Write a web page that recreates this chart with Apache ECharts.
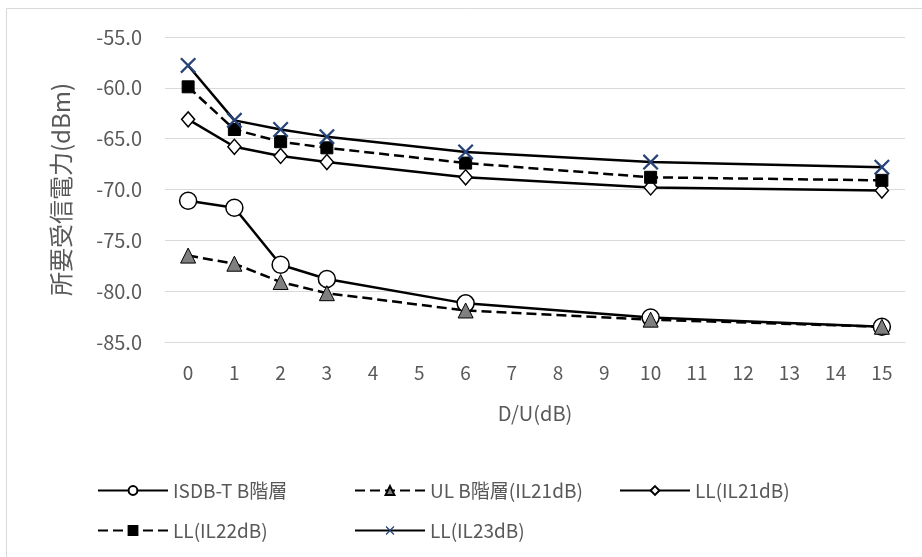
<!DOCTYPE html>
<html>
<head>
<meta charset="utf-8">
<script src="https://cdn.jsdelivr.net/npm/echarts@6/dist/echarts.min.js"></script>
<style>
html,body{margin:0;padding:0;background:#fff;}
#main{width:922px;height:557px;}
</style>
</head>
<body>
<div id="main"></div>
<script>
var categories = ['0','1','2','3','4','5','6','7','8','9','10','11','12','13','14','15'];
var seriesNames = ['ISDB-T B階層','UL B階層(IL21dB)','LL(IL21dB)','LL(IL22dB)','LL(IL23dB)'];
var isdbB = [-71.1,-71.8,-77.4,-78.8,null,null,-81.2,null,null,null,-82.6,null,null,null,null,-83.5];
var ulB   = [-76.5,-77.3,-79.1,-80.2,null,null,-81.9,null,null,null,-82.8,null,null,null,null,-83.5];
var ll21  = [-63.1,-65.8,-66.7,-67.3,null,null,-68.8,null,null,null,-69.8,null,null,null,null,-70.1];
var ll22  = [-59.9,-64.1,-65.3,-65.9,null,null,-67.4,null,null,null,-68.8,null,null,null,null,-69.1];
var ll23  = [-57.8,-63.2,-64.1,-64.8,null,null,-66.3,null,null,null,-67.3,null,null,null,null,-67.8];
var yTicks = {min:-85, max:-55, interval:5};

var FONT = '"Noto Sans CJK JP","Noto Sans",sans-serif';
var TXT = '#595959';
var xPath = 'path://M0,1 L1,0 L5,4 L9,0 L10,1 L6,5 L10,9 L9,10 L5,6 L1,10 L0,9 L4,5 Z';

function legendFor(name, left, top){
  return {data:[name], left:left, top:top, padding:0, itemWidth:70, itemHeight:11,
    textStyle:{color:TXT, fontSize:19, fontFamily:FONT}, selectedMode:false};
}

var chart = echarts.init(document.getElementById('main'), null, {renderer:'canvas'});
chart.setOption({
  animation:false,
  backgroundColor:'#fff',
  graphic:[{type:'rect', shape:{x:6.5,y:8.5,width:1000,height:1000}, style:{fill:'none', stroke:'#d9d9d9', lineWidth:1}, silent:true}],
  grid:{left:165, right:17, top:37, bottom:215},
  legend:[
    legendFor(seriesNames[0], 97, 481),
    legendFor(seriesNames[1], 354, 481),
    legendFor(seriesNames[2], 619, 481),
    legendFor(seriesNames[3], 97, 521),
    legendFor(seriesNames[4], 354, 521)
  ],
  xAxis:{
    type:'category', data:categories, boundaryGap:true,
    name:'D/U(dB)', nameLocation:'middle', nameGap:61,
    nameTextStyle:{color:TXT, fontSize:20, fontFamily:FONT},
    axisLine:{lineStyle:{color:'#d9d9d9'}},
    axisTick:{show:false},
    axisLabel:{color:TXT, fontSize:19, fontFamily:FONT, margin:21, interval:0}
  },
  yAxis:{
    type:'value', min:yTicks.min, max:yTicks.max, interval:yTicks.interval,
    name:'所要受信電力(dBm)', nameLocation:'middle', nameGap:92, nameRotate:90,
    nameTextStyle:{color:TXT, fontSize:24, fontFamily:FONT},
    axisLine:{show:false}, axisTick:{show:false},
    splitLine:{lineStyle:{color:'#d9d9d9', width:1}},
    axisLabel:{color:TXT, fontSize:20, fontFamily:FONT, margin:23, formatter:function(v){return v.toFixed(1);}}
  },
  series:[
    {name:seriesNames[0], type:'line', data:isdbB, connectNulls:true,
      symbol:'circle', symbolSize:17,
      lineStyle:{color:'#000', width:2.5, type:'solid'},
      itemStyle:{color:'#fff', borderColor:'#000', borderWidth:1.5}},
    {name:seriesNames[1], type:'line', data:ulB, connectNulls:true,
      symbol:'triangle', symbolSize:15,
      lineStyle:{color:'#000', width:2.5, type:[10,5]},
      itemStyle:{color:'#7f7f7f', borderColor:'#000', borderWidth:1}},
    {name:seriesNames[2], type:'line', data:ll21, connectNulls:true,
      symbol:'diamond', symbolSize:[13,15],
      lineStyle:{color:'#000', width:2.5, type:'solid'},
      itemStyle:{color:'#fff', borderColor:'#000', borderWidth:1.5}},
    {name:seriesNames[3], type:'line', data:ll22, connectNulls:true,
      symbol:'rect', symbolSize:12,
      lineStyle:{color:'#000', width:2.5, type:[10,5]},
      itemStyle:{color:'#000', borderColor:'#000', borderWidth:1}},
    {name:seriesNames[4], type:'line', data:ll23, connectNulls:true,
      symbol:xPath, symbolSize:16, symbolKeepAspect:true,
      lineStyle:{color:'#000', width:2.5, type:'solid'},
      itemStyle:{color:'#264478', borderWidth:0}}
  ]
});
</script>
</body>
</html>
